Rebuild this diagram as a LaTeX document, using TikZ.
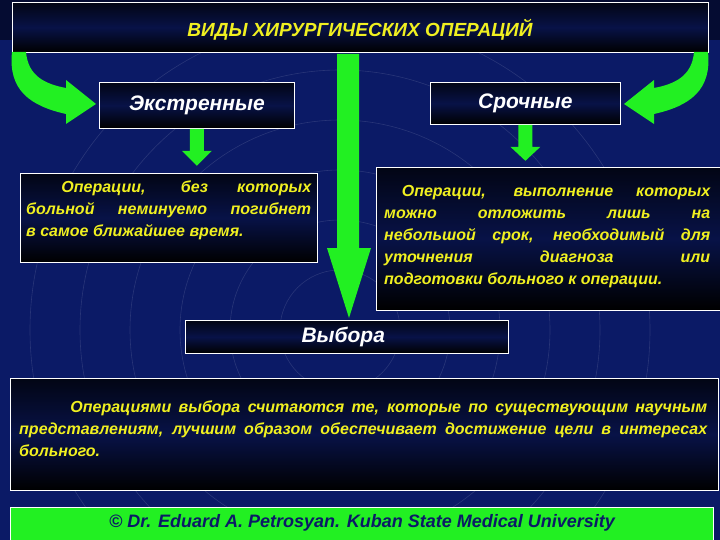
\documentclass[tikz,border=0pt]{standalone}
\usepackage{fontspec}
\setmainfont{Liberation Sans}
\definecolor{navy}{HTML}{0B1A66}
\definecolor{gr}{HTML}{22F022}
\definecolor{yel}{HTML}{F0F020}
\tikzset{
  box/.style={draw=white,line width=0.8pt,top color=black!80!navy,bottom color=black,middle color=navy!70!black,anchor=north west},
  btext/.style={text=yel,anchor=north west,inner sep=0pt,align=justify,font=\bfseries\itshape\fontsize{16}{22}\selectfont},
  wtext/.style={text=white,font=\bfseries\itshape\fontsize{21}{24}\selectfont},
  garrow/.style={fill=gr,draw=none},
}
\begin{document}
\begin{tikzpicture}[x=1pt,y=-1pt]
\useasboundingbox (0,0) rectangle (720,540);
\fill[navy] (0,0) rectangle (720,540);
\fill[black,opacity=0.5] (0,0) rectangle (720,40);
\foreach \r in {60,110,160,210,260,310}{
  \draw[white,opacity=0.12,line width=0.6pt] (340,330) circle (\r);
}
\node[box,minimum width=696pt,minimum height=50pt] (title) at (12,2) {};
\node[text=yel,font=\bfseries\itshape\fontsize{19}{22}\selectfont] (tt) at (360,30) {ВИДЫ ХИРУРГИЧЕСКИХ ОПЕРАЦИЙ};
\node[box,minimum width=195pt,minimum height=46pt,wtext] (ext) at (99,82) {Экстренные};
\node[box,minimum width=190pt,minimum height=42pt,wtext] (sro) at (430,82) {Срочные};
\node[box,minimum width=297pt,minimum height=89pt] (lt) at (20,173) {};
\node[btext,text width=285pt] (ltt) at (26,181) {\hspace*{2.2em}Операции, без которых\linebreak больной неминуемо погибнет\linebreak в самое ближайшее время.};
\node[box,minimum width=344pt,minimum height=143pt] (rt) at (376,167) {};
\node[btext,text width=326pt] (rtt) at (384,185) {\hspace*{1.1em}Операции, выполнение которых\linebreak можно отложить лишь на\linebreak небольшой срок, необходимый для\linebreak уточнения диагноза или\linebreak подготовки больного к операции.};
\node[box,minimum width=323pt,minimum height=33pt] (vyb) at (185,320) {};
\node[wtext,anchor=west] (vybt) at (298,337) {Выбора};
\node[box,minimum width=708pt,minimum height=112pt] (big) at (10,378) {};
\node[btext,text width=688pt] (bigt) at (19,401) {\hspace*{3.2em}Операциями выбора считаются те, которые по существующим научным представлениям, лучшим образом обеспечивает достижение цели в интересах больного.};
\node[fill=gr,draw=white,line width=0.8pt,minimum width=703pt,minimum height=33pt,anchor=north west] (foot) at (10,507) {};
\node[text=navy,font=\bfseries\itshape\fontsize{18}{20}\selectfont] (ft) at (362,523) {© Dr. Eduard A. Petrosyan. Kuban State Medical University};
% big down arrow
\coordinate (bt) at (349,318);
\fill[garrow] (337,54) -- (359,54) -- (359,248) -- (371,248) -- (bt) -- (327,248) -- (337,248) -- cycle;
% small arrows
\fill[garrow] (ext.south)++(-7,0) -- ++(14,0) -- ++(0,22) -- ++(8,0) -- ++(-15,15) -- ++(-15,-15) -- ++(8,0) -- cycle;
\fill[garrow] (sro.south)++(-7,0) -- ++(14,0) -- ++(0,22) -- ++(8,0) -- ++(-15,14) -- ++(-15,-14) -- ++(8,0) -- cycle;
% curved arrows
\fill[garrow] (12,52) -- (26,52) .. controls (28,76) and (45,84) .. (66,88) -- (66,80) -- (96,104) -- (66,124) -- (66,114) .. controls (30,106) and (8,90) .. (12,52) -- cycle;
\fill[garrow] (708,52) -- (694,52) .. controls (692,76) and (675,84) .. (654,88) -- (654,80) -- (624,104) -- (654,124) -- (654,114) .. controls (690,106) and (712,90) .. (708,52) -- cycle;
\end{tikzpicture}
\end{document}
